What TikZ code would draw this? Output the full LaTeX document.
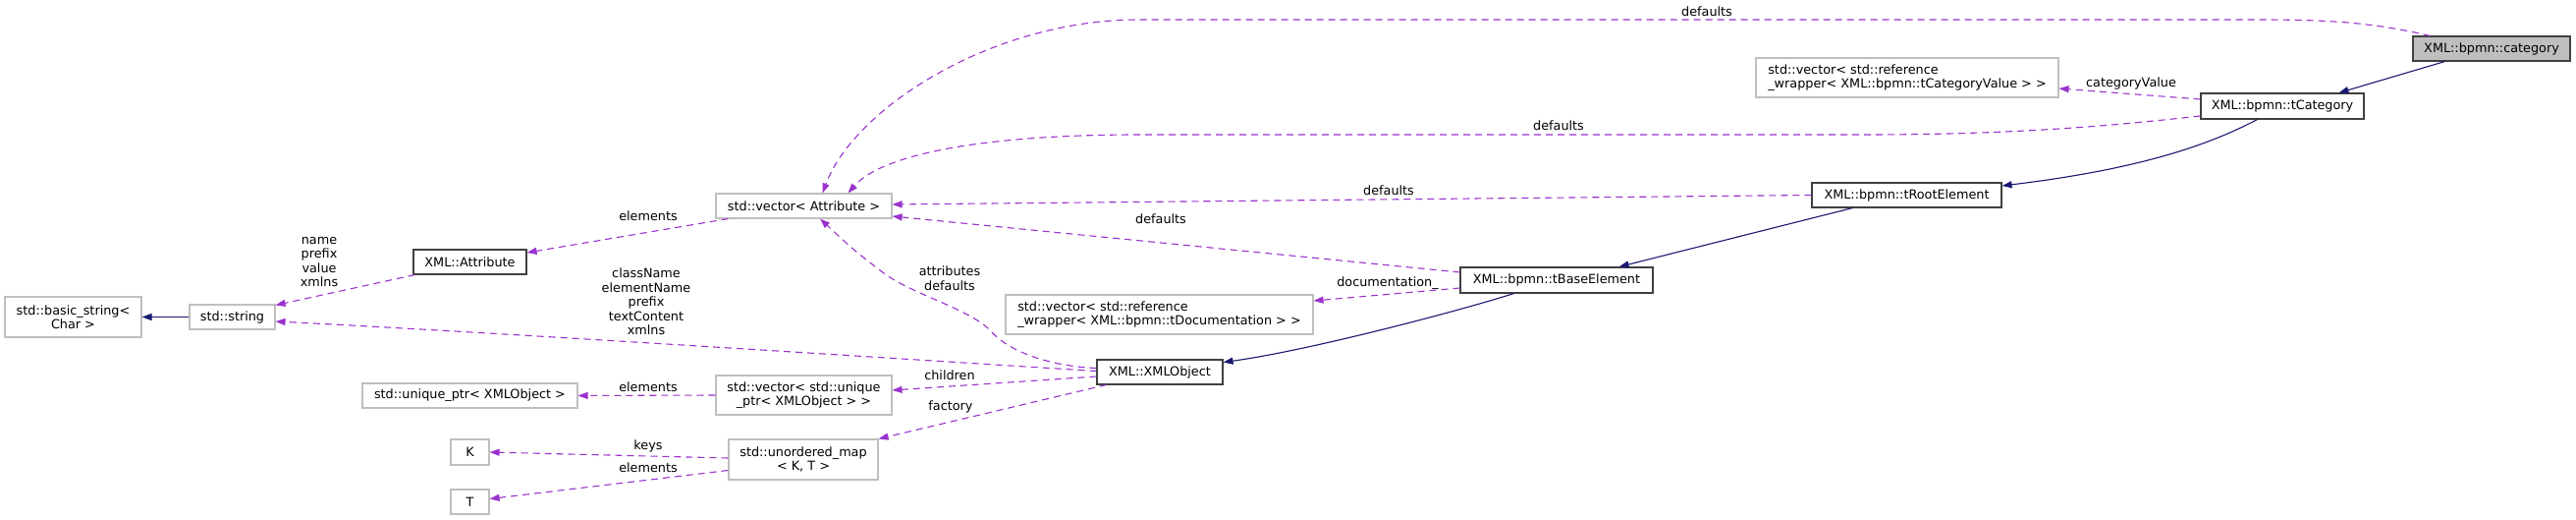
\documentclass[tikz,border=0pt]{standalone}
\usepackage{fontspec}
\setmainfont{DejaVu Sans}
\usetikzlibrary{arrows.meta,calc}
\definecolor{edgep}{HTML}{9A32CD}
\definecolor{navyc}{HTML}{191970}
\definecolor{lgray}{HTML}{BFBFBF}
\definecolor{dgray}{HTML}{404040}
\newcommand{\fs}{\fontsize{12.8}{14.5}\selectfont}
\begin{document}
\begin{tikzpicture}[x=1pt,y=-1pt,
 box/.style={draw=dgray,fill=white,line width=1.1pt,inner sep=0pt,font=\fs,align=center},
 ext/.style={box,draw=lgray},
 focus/.style={box,fill=lgray},
 use/.style={draw=edgep,line width=1.1pt,dash pattern=on 7pt off 5pt,-{Triangle[length=10pt,width=7pt,fill=edgep]}},
 inh/.style={draw=navyc,line width=1.1pt,-{Triangle[length=10pt,width=7pt,fill=navyc]}},
 lbl/.style={font=\fs,align=center,inner sep=0pt}]
\useasboundingbox[fill=white] (0,0) rectangle (2623,529);

% nodes
\node[focus,minimum width=160pt,minimum height=25pt] (category) at (2537,49.5) {XML::bpmn::category};
\node[box,minimum width=166pt,minimum height=26pt] (tCategory) at (2324,108) {XML::bpmn::tCategory};
\node[ext,minimum width=308pt,minimum height=40pt,align=left] (tCatValueVec) at (1942,79) {std::vector< std::reference\\\_wrapper< XML::bpmn::tCategoryValue > >};
\node[box,minimum width=193pt,minimum height=25pt] (tRootElement) at (1941.5,198.5) {XML::bpmn::tRootElement};
\node[box,minimum width=196pt,minimum height=26pt] (tBaseElement) at (1585,285) {XML::bpmn::tBaseElement};
\node[ext,minimum width=313pt,minimum height=40pt,align=left] (tDocVec) at (1180.5,320) {std::vector< std::reference\\\_wrapper< XML::bpmn::tDocumentation > >};
\node[box,minimum width=128pt,minimum height=25pt] (XMLObject) at (1181,378.5) {XML::XMLObject};
\node[ext,minimum width=179pt,minimum height=25pt] (vecAttr) at (818.5,209.5) {std::vector< Attribute >};
\node[box,minimum width=115pt,minimum height=25pt] (Attribute) at (478.5,266.5) {XML::Attribute};
\node[ext,minimum width=87pt,minimum height=25pt] (string) at (236.5,322.5) {std::string};
\node[ext,minimum width=139pt,minimum height=41pt] (basicString) at (74.5,322.5) {std::basic\_string<\\Char >};
\node[ext,minimum width=179pt,minimum height=40pt] (vecUnique) at (818.5,402) {std::vector< std::unique\\\_ptr< XMLObject > >};
\node[ext,minimum width=219pt,minimum height=25pt] (uniquePtr) at (478.5,402.5) {std::unique\_ptr< XMLObject >};
\node[ext,minimum width=152pt,minimum height=41pt] (umap) at (818,467.5) {std::unordered\_map\\< K, T >};
\node[ext,minimum width=39pt,minimum height=26pt] (K) at (478.5,460) {K};
\node[ext,minimum width=39pt,minimum height=25pt] (T) at (478.5,510.5) {T};

% inheritance
\draw[inh] ($(category.south west)+(33,0)$) -- ($(tCategory.north west)+(141,0)$);
\draw[inh] ($(tCategory.south west)+(58,0)$) .. controls (2250,147) and (2180,172) .. ($(tRootElement.east)+(0,-9.5)$);
\draw[inh] ($(tRootElement.south west)+(42,0)$) -- ($(tBaseElement.north east)+(-35,0)$);
\draw[inh] ($(tBaseElement.south west)+(55,0)$) .. controls (1480,318) and (1330,357) .. ($(XMLObject.east)+(0,-10)$);
\draw[inh] (string.west) -- (basicString.east);

% usage
\draw[use] ($(category.north west)+(18,0)$) .. controls (2420,24) and (2380,20) .. (2300,20) -- (1160,20) .. controls (1010,20) and (870,110) .. ($(vecAttr.north west)+(109,0)$);
\draw[use] ($(tCategory.west)+(0,10)$) .. controls (2150,128) and (2050,137) .. (1900,137) -- (1160,137) .. controls (1010,137) and (900,155) .. ($(vecAttr.north west)+(135,0)$);
\draw[use] ($(tCategory.west)+(0,-7)$) -- ($(tCatValueVec.east)+(0,11)$);
\draw[use] (tRootElement.west) -- ($(vecAttr.east)+(0,-1.5)$);
\draw[use] ($(tBaseElement.west)+(0,-8)$) -- ($(vecAttr.east)+(0,10.5)$);
\draw[use] ($(tBaseElement.west)+(0,8)$) -- ($(tDocVec.east)+(0,-14)$);
\draw[use] ($(XMLObject.west)+(0,-4)$) .. controls (1075,373) and (1030,360) .. (1010,338) .. controls (990,315) and (930,300) .. (900,278) .. controls (870,255) .. ($(vecAttr.south)+(16.5,0)$);
\draw[use] ($(XMLObject.west)+(0,-1)$) .. controls (900,364) and (500,338) .. ($(string.east)+(0,4.5)$);
\draw[use] ($(XMLObject.west)+(0,4.5)$) -- ($(vecUnique.east)+(0,-5)$);
\draw[use] ($(XMLObject.south west)+(10,0)$) -- (umap.north east);
\draw[use] ($(vecAttr.south west)+(13,0)$) -- ($(Attribute.east)+(0,-9.5)$);
\draw[use] ($(Attribute.south west)+(2,0)$) -- ($(string.north east)+(0,1)$);
\draw[use] (vecUnique.west) -- (uniquePtr.east);
\draw[use] ($(umap.west)+(0,-1.5)$) -- (K.east);
\draw[use] ($(umap.west)+(0,11)$) -- ($(T.east)+(0,-3)$);

% labels
\node[lbl] (l1) at (1738,12) {defaults};
\node[lbl] (l2) at (2170,85) {categoryValue};
\node[lbl] (l3) at (1587,128) {defaults};
\node[lbl] (l4) at (1414,194) {defaults};
\node[lbl] (l5) at (1182,223) {defaults};
\node[lbl] (l6) at (1413,288) {documentation\_};
\node[lbl] (l7) at (967,283) {attributes\\defaults};
\node[lbl] (l8) at (658,307) {className\\elementName\\prefix\\textContent\\xmlns};
\node[lbl] (l9) at (967,382) {children};
\node[lbl] (l10) at (968,414) {factory};
\node[lbl] (l11) at (660,220) {elements};
\node[lbl] (l12) at (325,266.5) {name\\prefix\\value\\xmlns};
\node[lbl] (l13) at (660,394) {elements};
\node[lbl] (l14) at (660,454) {keys};
\node[lbl] (l15) at (660,476) {elements};
\end{tikzpicture}
\end{document}
